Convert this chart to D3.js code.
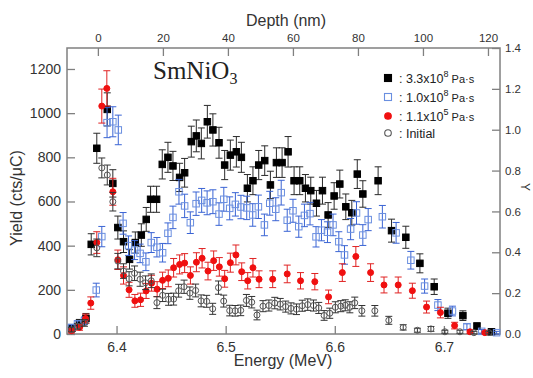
<!DOCTYPE html>
<html><head><meta charset="utf-8">
<script src="https://cdn.jsdelivr.net/npm/d3@7"></script>
<style>
body{margin:0;background:#fff;}
svg{display:block;}
text{font-family:"Liberation Sans",Arial,sans-serif;}
</style></head>
<body><svg id="c" width="533" height="378"></svg>
<script>
// ---------- data ----------
const energyTicks = [6.4, 6.5, 6.6, 6.7];
const yieldTicks = [0, 200, 400, 600, 800, 1000, 1200];
const depthTicks = [0, 20, 40, 60, 80, 100, 120];
const ratioTicks = [0.0, 0.2, 0.4, 0.6, 0.8, 1.0, 1.2, 1.4];

const seriesNames = ["3.3x10|8| Pa·s", "1.0x10|8| Pa·s", "1.1x10|5| Pa·s", "Initial"];

const blackE = [6.359,6.366,6.372,6.3768,6.3819,6.3915,6.3966,6.4012,6.4064,6.4119,6.4172,6.4227,6.4272,6.4312,6.4367,6.4419,6.4471,6.4517,6.4578,6.4624,6.4685,6.4731,6.4777,6.4832,6.4883,6.4939,6.4991,6.5043,6.5098,6.5144,6.5199,6.5250,6.5303,6.5358,6.5410,6.5465,6.5517,6.5572,6.5627,6.5679,6.5731,6.5780,6.5832,6.5887,6.5939,6.5994,6.6046,6.6101,6.6156,6.6206,6.6257,6.6397,6.6520,6.6651,6.6780,6.6911,6.7037,6.7174,6.7303,6.7436];
const blackY = [26,48,71,406,841,1017,682,482,418,338,414,448,519,610,610,768,800,761,709,730,871,897,863,961,924,866,765,810,825,800,660,694,765,785,675,776,776,825,694,694,660,649,592,649,539,625,679,576,549,724,634,694,468,438,320,214,94,83,36,10];
const blackErr = [15,18,22,48,68,75,62,52,49,44,48,51,54,59,59,66,68,66,64,65,70,72,70,74,73,70,66,68,69,68,62,63,66,67,62,67,67,69,63,63,62,61,58,61,56,60,63,58,56,65,60,63,52,50,43,35,23,22,14,8];

const blueE = [6.3587,6.3642,6.3706,6.3814,6.3865,6.3913,6.3966,6.4016,6.4060,6.4110,6.4165,6.4216,6.4269,6.4318,6.4370,6.4422,6.4471,6.4517,6.4572,6.4624,6.4676,6.4729,6.4780,6.4830,6.4883,6.4939,6.4983,6.5037,6.5089,6.5140,6.5193,6.5248,6.5300,6.5355,6.5404,6.5459,6.5509,6.5564,6.5617,6.5670,6.5722,6.5773,6.5828,6.5878,6.5933,6.5984,6.6037,6.6089,6.6145,6.6199,6.6257,6.6306,6.6436,6.6562,6.6697,6.6823,6.6945,6.7078,6.7211,6.7346,6.7483];
const blueY = [30,45,60,199,441,957,961,924,501,400,380,365,327,414,393,368,456,528,644,580,504,590,605,594,599,543,610,569,587,575,571,539,576,494,592,565,640,515,558,486,537,545,440,470,461,494,418,358,475,548,448,518,531,458,334,217,131,104,33,12,6];
const blueErr = [12,15,17,31,46,68,68,67,49,44,43,42,40,45,44,42,47,51,56,53,49,53,54,54,54,51,54,52,53,53,53,51,53,49,54,52,56,50,52,48,51,51,46,48,47,49,45,42,48,51,47,50,51,47,40,32,25,22,13,8,6];

const redE = [6.3587,6.3661,6.3716,6.3764,6.3819,6.3865,6.3911,6.3966,6.4012,6.4064,6.4115,6.4168,6.4220,6.4271,6.4321,6.4372,6.4422,6.4474,6.4523,6.4578,6.4624,6.4677,6.4732,6.4784,6.4838,6.4890,6.4942,6.4991,6.5043,6.5094,6.5147,6.5202,6.5250,6.5306,6.5431,6.5564,6.5686,6.5817,6.5943,6.6069,6.6193,6.6328,6.6451,6.6581,6.6711,6.6841,6.6968,6.7098,6.7239,6.7376];
const redY = [15,30,70,140,414,1032,1112,644,336,265,200,150,155,195,230,203,243,252,300,315,321,265,325,343,285,332,304,250,323,358,282,241,300,248,248,272,241,237,168,278,351,278,222,222,196,122,97,38,10,6];
const redErr = [10,13,20,28,49,77,80,61,44,39,34,29,30,34,36,34,37,38,42,43,43,39,43,44,40,44,42,38,43,45,40,37,42,38,38,40,37,37,31,40,45,40,36,36,34,27,24,15,8,6];

const initE = [6.3587,6.3642,6.3706,6.3819,6.3865,6.3915,6.3966,6.4012,6.4064,6.4115,6.4165,6.4216,6.4266,6.4318,6.4370,6.4422,6.4477,6.4523,6.4569,6.4619,6.4672,6.4725,6.4775,6.4826,6.4881,6.4934,6.4982,6.5037,6.5087,6.5138,6.5190,6.5239,6.5287,6.5342,6.5396,6.5450,6.5500,6.5550,6.5599,6.5649,6.5702,6.5752,6.5805,6.5853,6.5902,6.5954,6.6005,6.6055,6.6096,6.6138,6.6183,6.6248,6.6367,6.6495,6.6627,6.6757,6.6881,6.7009,6.7147,6.7275,6.7413];
const initY = [20,35,50,390,752,720,599,330,285,250,275,248,232,241,142,175,157,158,196,214,185,197,150,148,114,210,149,106,105,107,152,144,86,126,129,140,135,124,116,112,128,133,129,118,84,94,121,126,130,121,141,105,105,62,30,17,23,10,10,6,6];
const initErr = [10,13,15,40,45,45,42,35,33,32,33,32,31,31,27,28,27,27,29,30,28,29,27,27,25,30,27,24,24,24,27,26,22,25,25,26,26,25,25,24,25,26,25,25,22,23,25,25,25,25,26,24,24,18,12,9,11,7,7,6,6];

// ---------- layout ----------
const L = 67, R = 500, T = 48, B = 334;
const svg = d3.select("#c");
const x = d3.scaleLinear().domain([6.3546, 6.7514]).range([L, R]);
const y = d3.scaleLinear().domain([0, 1295]).range([B, T]);
const yR = d3.scaleLinear().domain([0, 1.4]).range([B, T]);
const xD = d3.scaleLinear().domain([-9.5, 123.7]).range([L, R]);

const axisColor = "#808080";
const labelColor = "#333";

function styleAxis(g, fs) {
  g.selectAll(".domain").remove();
  g.selectAll(".tick line").attr("stroke", axisColor).attr("stroke-width", 1.3);
  g.selectAll(".tick text").attr("fill", labelColor).style("font-size", fs + "px")
    .style("font-family", "'Liberation Sans', Arial, sans-serif");
}

svg.append("g").attr("transform", `translate(${L},0)`)
  .call(d3.axisLeft(y).tickValues(yieldTicks).tickSize(-8).tickPadding(6).tickFormat(d3.format("d")))
  .call(g => styleAxis(g, 14));
svg.append("g").attr("transform", `translate(0,${B})`)
  .call(d3.axisBottom(x).tickValues(energyTicks).tickSize(-8).tickPadding(8).tickFormat(d3.format(".1f")))
  .call(g => styleAxis(g, 14));
svg.append("g").attr("transform", `translate(0,${T})`)
  .call(d3.axisTop(xD).tickValues(depthTicks).tickSize(-8).tickPadding(6).tickFormat(d3.format("d")))
  .call(g => styleAxis(g, 11.5));
svg.append("g").attr("transform", `translate(${R},0)`)
  .call(d3.axisRight(yR).tickValues(ratioTicks).tickSize(-8).tickPadding(5).tickFormat(d3.format(".1f")))
  .call(g => styleAxis(g, 11.5));

svg.append("rect").attr("x", L).attr("y", T).attr("width", R - L).attr("height", B - T)
  .attr("fill", "none").attr("stroke", axisColor).attr("stroke-width", 1.5);

// axis titles
svg.append("text").attr("x", 283).attr("y", 366).attr("text-anchor", "middle")
  .style("font-size", "16px").attr("fill", labelColor).text("Energy (MeV)");
svg.append("text").attr("x", 286).attr("y", 26).attr("text-anchor", "middle")
  .style("font-size", "16px").attr("fill", labelColor).text("Depth (nm)");
svg.append("text").attr("transform", "translate(22,198) rotate(-90)").attr("text-anchor", "middle")
  .style("font-size", "16px").attr("fill", labelColor).text("Yield (cts/μC)");
svg.append("text").attr("transform", "translate(521,187) rotate(90)").attr("text-anchor", "middle")
  .style("font-size", "12px").attr("fill", labelColor).text("Y");

// title
const tt = svg.append("text").attr("x", 153).attr("y", 79)
  .style("font-family", "'Liberation Serif','Times New Roman',serif").style("font-size", "25px").attr("fill", "#222");
tt.append("tspan").text("SmNiO");
tt.append("tspan").attr("dy", 5).style("font-size", "16px").text("3");

// ---------- data drawing ----------
function draw(E, Y, Er, opt) {
  const data = E.map((e, i) => ({ e, v: Y[i], s: Er[i] }));
  const g = svg.append("g");
  const eb = g.append("g").attr("stroke", opt.bar).attr("stroke-width", 1).attr("fill", "none");
  data.forEach(d => {
    const cx = x(d.e), y0 = y(Math.max(0, d.v - d.s)), y1 = y(d.v + d.s);
    eb.append("line").attr("x1", cx).attr("x2", cx).attr("y1", y0).attr("y2", y1);
    eb.append("line").attr("x1", cx - 3.5).attr("x2", cx + 3.5).attr("y1", y0).attr("y2", y0);
    eb.append("line").attr("x1", cx - 3.5).attr("x2", cx + 3.5).attr("y1", y1).attr("y2", y1);
  });
  const m = g.append("g");
  if (opt.shape === "square") {
    m.selectAll("rect").data(data).join("rect")
      .attr("x", d => x(d.e) - opt.size / 2).attr("y", d => y(d.v) - opt.size / 2)
      .attr("width", opt.size).attr("height", opt.size)
      .attr("fill", opt.fill).attr("stroke", opt.stroke).attr("stroke-width", 1);
  } else {
    m.selectAll("circle").data(data).join("circle")
      .attr("cx", d => x(d.e)).attr("cy", d => y(d.v)).attr("r", opt.size / 2)
      .attr("fill", opt.fill).attr("stroke", opt.stroke).attr("stroke-width", 1);
  }
}

const styles = [
  { shape: "square", size: 6.5, fill: "#000", stroke: "#000", bar: "#2a2a2a" },
  { shape: "square", size: 6.5, fill: "none", stroke: "#6a8fe0", bar: "#3a64d4" },
  { shape: "circle", size: 6, fill: "#f01010", stroke: "#f01010", bar: "#e02222" },
  { shape: "circle", size: 6, fill: "none", stroke: "#555", bar: "#333" }
];

draw(blackE, blackY, blackErr, styles[0]);
draw(blueE, blueY, blueErr, styles[1]);
draw(redE, redY, redErr, styles[2]);
draw(initE, initY, initErr, styles[3]);

// ---------- legend ----------
const legY = [78, 97, 116, 133];
seriesNames.forEach((name, i) => {
  const st = styles[i];
  const cx = 388, cy = legY[i];
  if (st.shape === "square") {
    svg.append("rect").attr("x", cx - 3.5).attr("y", cy - 3.5).attr("width", 7).attr("height", 7)
      .attr("fill", st.fill).attr("stroke", st.stroke).attr("stroke-width", 1.1);
  } else {
    svg.append("circle").attr("cx", cx).attr("cy", cy).attr("r", 3.3)
      .attr("fill", st.fill).attr("stroke", st.stroke).attr("stroke-width", 1.1);
  }
  const parts = name.split("|");
  const t = svg.append("text").attr("x", 399).attr("y", cy + 4.5).style("font-size", "12.5px").attr("fill", "#222");
  t.append("tspan").text(": " + parts[0]);
  if (parts.length > 1) {
    t.append("tspan").attr("dy", -6).style("font-size", "9px").text(parts[1]);
    t.append("tspan").attr("dy", 6).style("font-size", "11px").text(parts[2]);
  }
});
</script></body></html>
